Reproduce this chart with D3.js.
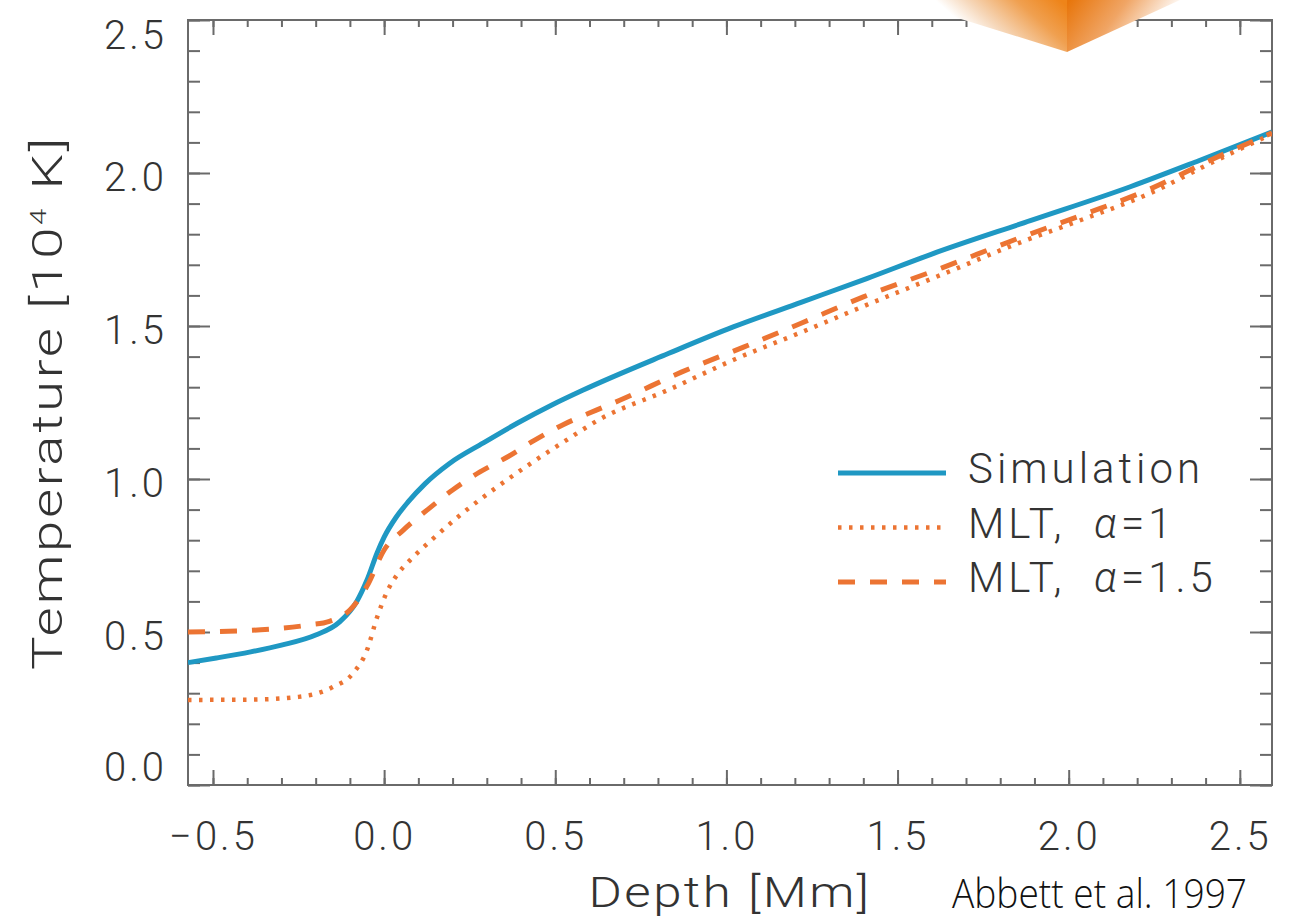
<!DOCTYPE html>
<html>
<head>
<meta charset="utf-8">
<script src="https://cdn.jsdelivr.net/npm/d3@7"></script>
<style>
  html, body { margin: 0; padding: 0; background: #fff; }
  svg { display: block; }
  text { font-family: Roboto, "DejaVu Sans", sans-serif; font-weight: 300; fill: #333; }
</style>
</head>
<body>
<svg></svg>
<script>
const svgWidth = 1290,
  svgHeight = 919,
  margin = {top: 20, right: 18, bottom: 134, left: 188},
  plotRight = svgWidth - margin.right,
  plotBottom = svgHeight - margin.bottom,
  frameColor = '#6a6a6a',
  blueColor = '#1f98c3',
  orangeColor = '#ec7433',
  labelSize = 40

// Simulation (solid blue)
const depthSim = [-0.573, -0.49, -0.39, -0.30, -0.20, -0.13, -0.08, -0.05, -0.02, 0.00, 0.035, 0.07, 0.12, 0.19, 0.29, 0.39, 0.49, 0.58, 0.83, 1.02, 1.22, 1.41, 1.60, 1.89, 2.18, 2.38, 2.594]
const tempSim = [0.40, 0.415, 0.435, 0.457, 0.49, 0.533, 0.60, 0.67, 0.76, 0.81, 0.875, 0.925, 0.985, 1.05, 1.118, 1.183, 1.242, 1.29, 1.41, 1.497, 1.578, 1.655, 1.735, 1.845, 1.955, 2.04, 2.134]

// MLT, alpha = 1 (dotted orange)
const depthMlt1 = [-0.573, -0.39, -0.25, -0.15, -0.09, -0.05, -0.02, 0.01, 0.04, 0.076, 0.143, 0.23, 0.33, 0.43, 0.52, 0.63, 0.83, 1.02, 1.22, 1.41, 1.64, 1.84, 2.04, 2.23, 2.42, 2.594]
const tempMlt1 = [0.278, 0.279, 0.288, 0.32, 0.366, 0.441, 0.55, 0.635, 0.69, 0.735, 0.805, 0.889, 0.974, 1.052, 1.118, 1.195, 1.291, 1.389, 1.48, 1.569, 1.673, 1.765, 1.848, 1.93, 2.035, 2.128]

// MLT, alpha = 1.5 (dashed orange)
const depthMlt15 = [-0.573, -0.36, -0.22, -0.16, -0.10, -0.05, 0.00, 0.056, 0.126, 0.20, 0.28, 0.36, 0.44, 0.52, 0.62, 0.69, 0.87, 1.05, 1.22, 1.40, 1.63, 1.84, 2.04, 2.23, 2.42, 2.594]
const tempMlt15 = [0.50, 0.507, 0.523, 0.535, 0.572, 0.65, 0.768, 0.833, 0.899, 0.964, 1.023, 1.072, 1.127, 1.176, 1.225, 1.258, 1.35, 1.431, 1.51, 1.595, 1.69, 1.781, 1.863, 1.944, 2.045, 2.131]

const xDomain = [-0.573, 2.594]
const yDomain = [0, 2.5]
const xMajorTicks = [-0.5, 0.0, 0.5, 1.0, 1.5, 2.0, 2.5]
const yMajorTicks = [0.0, 0.5, 1.0, 1.5, 2.0, 2.5]
const xMinorTicks = d3.range(-5, 26).map(d => d / 10)
const yMinorTicks = d3.range(0, 26).map(d => d / 10)
const seriesNames = ['Simulation', 'MLT,  \u03b1=1', 'MLT,  \u03b1=1.5']
const xTitle = 'Depth [Mm]'
const citation = 'Abbett et al. 1997'

const series = [
  {name: seriesNames[0], depth: depthSim, temp: tempSim, color: blueColor, width: 5, dash: null},
  {name: seriesNames[1], depth: depthMlt1, temp: tempMlt1, color: orangeColor, width: 4.5, dash: '3.5,7.5'},
  {name: seriesNames[2], depth: depthMlt15, temp: tempMlt15, color: orangeColor, width: 5, dash: '17,15'}
]

const svg = d3.select('svg')
  .attr('width', svgWidth)
  .attr('height', svgHeight)

svg.append('rect')
  .attr('width', svgWidth).attr('height', svgHeight)
  .attr('fill', '#fff')

const x = d3.scaleLinear().domain(xDomain).range([margin.left, plotRight])
const y = d3.scaleLinear().domain(yDomain).range([plotBottom, margin.top])
const fmt = d3.format('.1f')

svg.append('clipPath').attr('id', 'plot-clip')
  .append('rect')
  .attr('x', margin.left).attr('y', margin.top)
  .attr('width', plotRight - margin.left).attr('height', plotBottom - margin.top)

// axes, IDL style: ticks inside on all four sides
function styleAxis(g) {
  g.select('.domain').remove()
  g.selectAll('.tick line').attr('stroke', frameColor).attr('stroke-width', 2)
  g.selectAll('.tick text')
    .attr('fill', '#333')
    .style('font-size', labelSize + 'px')
    .style('letter-spacing', '3px')
}

const axes = [
  {axis: d3.axisBottom(x).tickValues(xMinorTicks).tickSize(-7).tickFormat(''), at: [0, plotBottom]},
  {axis: d3.axisBottom(x).tickValues(xMajorTicks).tickSize(-15).tickPadding(37).tickFormat(fmt), at: [0, plotBottom]},
  {axis: d3.axisTop(x).tickValues(xMinorTicks).tickSize(-7).tickFormat(''), at: [0, margin.top]},
  {axis: d3.axisTop(x).tickValues(xMajorTicks).tickSize(-15).tickFormat(''), at: [0, margin.top]},
  {axis: d3.axisLeft(y).tickValues(yMinorTicks).tickSize(-12).tickFormat(''), at: [margin.left, 0]},
  {axis: d3.axisLeft(y).tickValues(yMajorTicks).tickSize(-22).tickPadding(21).tickFormat(fmt), at: [margin.left, 0], left: true},
  {axis: d3.axisRight(y).tickValues(yMinorTicks).tickSize(-12).tickFormat(''), at: [plotRight, 0]},
  {axis: d3.axisRight(y).tickValues(yMajorTicks).tickSize(-22).tickFormat(''), at: [plotRight, 0]}
]

axes.forEach(a => {
  const g = svg.append('g')
    .attr('transform', `translate(${a.at})`)
    .call(a.axis)
    .call(styleAxis)
  if (a.left) {
    // labels sit a bit below the tick and are kept inside the frame
    g.selectAll('.tick text')
      .attr('y', d => {
        const c = Math.min(Math.max(y(d) + 5, margin.top + 16), plotBottom - 17)
        return c - y(d)
      })
  }
})

svg.append('rect')
  .attr('x', margin.left).attr('y', margin.top)
  .attr('width', plotRight - margin.left).attr('height', plotBottom - margin.top)
  .attr('fill', 'none')
  .attr('stroke', frameColor)
  .attr('stroke-width', 2)

// curves
const line = d3.line()
  .x(d => x(d[0]))
  .y(d => y(d[1]))
  .curve(d3.curveMonotoneX)

const curveG = svg.append('g').attr('clip-path', 'url(#plot-clip)')
curveG.selectAll('path')
  .data(series)
  .enter().append('path')
  .attr('d', s => line(s.depth.map((d, i) => [d, s.temp[i]])))
  .attr('fill', 'none')
  .attr('stroke', s => s.color)
  .attr('stroke-width', s => s.width)
  .attr('stroke-dasharray', s => s.dash)

// legend
const legend = svg.append('g').attr('transform', 'translate(838, 473)')
const rows = legend.selectAll('g')
  .data(series)
  .enter().append('g')
  .attr('transform', (_d, i) => `translate(0, ${i * 54.5})`)

rows.append('line')
  .attr('x1', 0).attr('x2', 108)
  .attr('stroke', s => s.color)
  .attr('stroke-width', s => s.width)
  .attr('stroke-dasharray', s => s.dash)

rows.append('text')
  .attr('x', 130)
  .attr('y', 10)
  .attr('xml:space', 'preserve')
  .style('font-size', '42px')
  .style('letter-spacing', '4px')
  .each(function (s) {
    const parts = s.name.split('\u03b1')
    const t = d3.select(this)
    t.append('tspan').text(parts[0])
    if (parts.length > 1) {
      t.append('tspan').style('font-style', 'italic').text('\u03b1')
      t.append('tspan').text(parts[1])
    }
  })

// axis titles
svg.append('text')
  .attr('x', (margin.left + plotRight) / 2)
  .attr('y', 907)
  .attr('text-anchor', 'middle')
  .attr('textLength', 283)
  .attr('lengthAdjust', 'spacingAndGlyphs')
  .style('font-size', '42px')
  .style('letter-spacing', '2px')
  .text(xTitle)

const yTitle = svg.append('text')
  .attr('transform', `translate(62, ${(margin.top + plotBottom) / 2}) rotate(-90)`)
  .attr('text-anchor', 'middle')
  .attr('textLength', 535)
  .attr('lengthAdjust', 'spacingAndGlyphs')
  .style('font-size', '42px')
  .style('letter-spacing', '2px')
yTitle.append('tspan').text('Temperature [10')
yTitle.append('tspan').attr('dy', -16).style('font-size', '22px').text('4')
yTitle.append('tspan').attr('dy', 16).text(' K]')

// citation (sits right at the bottom edge)
svg.append('text')
  .attr('x', 952)
  .attr('y', 908)
  .attr('textLength', 295)
  .attr('lengthAdjust', 'spacingAndGlyphs')
  .style('font-family', '"Open Sans", sans-serif')
  .style('font-weight', 300)
  .style('font-size', '40px')
  .style('fill', '#111')
  .text(citation)

// decorative orange slide ornament at the top edge
const defs = svg.append('defs')
const gl = defs.append('linearGradient').attr('id', 'face-left')
  .attr('gradientUnits', 'userSpaceOnUse')
  .attr('x1', 1060).attr('y1', 0).attr('x2', 1005).attr('y2', 62)
gl.append('stop').attr('offset', 0).attr('stop-color', '#ee8419')
gl.append('stop').attr('offset', 0.35).attr('stop-color', '#f0a050')
gl.append('stop').attr('offset', 0.75).attr('stop-color', '#f6d8bb')
gl.append('stop').attr('offset', 1).attr('stop-color', '#ffffff')
const gr = defs.append('linearGradient').attr('id', 'face-right')
  .attr('gradientUnits', 'userSpaceOnUse')
  .attr('x1', 1070).attr('y1', 0).attr('x2', 1145).attr('y2', 55)
gr.append('stop').attr('offset', 0).attr('stop-color', '#e8760c')
gr.append('stop').attr('offset', 0.5).attr('stop-color', '#f0a565')
gr.append('stop').attr('offset', 1).attr('stop-color', '#ffffff')

svg.append('path').attr('d', 'M900,0L1067,0L1067,52Z').attr('fill', 'url(#face-left)')
svg.append('path').attr('d', 'M1067,0L1180,0L1067,52Z').attr('fill', 'url(#face-right)')
</script>
</body>
</html>
